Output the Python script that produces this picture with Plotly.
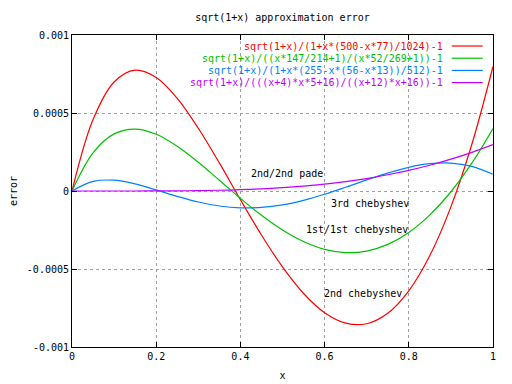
import plotly.graph_objects as go

x_vals = [0, 0.05, 0.1, 0.15, 0.2, 0.25, 0.3, 0.35, 0.4, 0.45, 0.5,
          0.55, 0.6, 0.65, 0.7, 0.75, 0.8, 0.85, 0.9, 0.95, 1.0]

err_cheb2 = [0, 0.000458, 0.000699, 0.000775, 0.000728, 0.000594, 0.000402, 0.000180,
             -0.0000552, -0.000282, -0.000487, -0.000657, -0.000780, -0.000847,
             -0.000851, -0.000784, -0.000640, -0.000414, -0.000102, 0.000301, 0.000798]
err_cheb11 = [0, 0.000245, 0.000366, 0.000397, 0.000364, 0.000287, 0.000184, 0.0000693,
              -0.0000471, -0.000156, -0.000250, -0.000324, -0.000374, -0.000395,
              -0.000385, -0.000342, -0.000266, -0.000153, -0.0000048, 0.000180, 0.000401]
err_cheb3 = [0, 0.0000615, 0.0000692, 0.0000455, 0.0000070, -0.0000345, -0.0000705,
             -0.0000960, -0.000108, -0.000105, -0.0000887, -0.0000596, -0.0000209,
             0.0000240, 0.0000709, 0.000115, 0.000152, 0.000175, 0.000179, 0.000158, 0.000107]
err_pade22 = [0, 0.0000000, 0.0000000, 0.0000001, 0.0000004, 0.0000011, 0.0000024,
              0.0000047, 0.0000083, 0.0000136, 0.0000210, 0.0000310, 0.0000438,
              0.0000599, 0.0000798, 0.000104, 0.000132, 0.000165, 0.000204, 0.000248, 0.000297]

series_names = ["sqrt(1+x)/(1+x*(500-x*77)/1024)-1",
                "sqrt(1+x)/((x*147/214+1)/(x*52/269+1))-1",
                "sqrt(1+x)/(1+x*(255-x*(56-x*13))/512)-1",
                "sqrt(1+x)/(((x+4)*x*5+16)/((x+12)*x+16))-1"]
series_colors = ["#ff0000", "#00c000", "#0080ff", "#c000ff"]
series_values = [err_cheb2, err_cheb11, err_cheb3, err_pade22]

curve_labels = ["2nd/2nd pade", "3rd chebyshev", "1st/1st chebyshev", "2nd chebyshev"]
curve_label_x = [0.42, 0.61, 0.55, 0.595]
curve_label_y = [0.000113, -0.000079, -0.000246, -0.000656]

y_ticks = [-0.001, -0.0005, 0, 0.0005, 0.001]
y_ticktext = ["-0.001", "-0.0005", "0", "0.0005", "0.001"]
x_ticks = [0, 0.2, 0.4, 0.6, 0.8, 1]
x_ticktext = ["0", "0.2", "0.4", "0.6", "0.8", "1"]

FONT = "DejaVu Sans Mono"

fig = go.Figure()
for name, col, vals in zip(series_names, series_colors, series_values):
    fig.add_trace(go.Scatter(x=x_vals, y=vals, mode="lines", name=name,
                             line=dict(color=col, width=1.2, shape="spline"),
                             showlegend=False))

# key (legend) drawn right-aligned with samples on the right, gnuplot style
key_y = [0.9647, 0.9256, 0.8865, 0.8474]
for name, col, ky in zip(series_names, series_colors, key_y):
    fig.add_annotation(xref="paper", yref="paper", x=0.886, y=ky, text=name,
                       showarrow=False, xanchor="right", yanchor="middle",
                       font=dict(color=col, size=10, family=FONT))
    fig.add_shape(type="line", xref="paper", yref="paper", x0=0.902, x1=0.9755,
                  y0=ky, y1=ky, line=dict(color=col, width=1.2))

for t, lx, ly in zip(curve_labels, curve_label_x, curve_label_y):
    fig.add_annotation(x=lx, y=ly, text=t, showarrow=False, xanchor="left",
                       yanchor="middle", font=dict(color="black", size=10, family=FONT))

axis_common = dict(showline=True, linecolor="black", linewidth=1, mirror="ticks",
                   ticks="inside", ticklen=5, tickcolor="black", zeroline=False,
                   showgrid=True, gridcolor="#a0a0a0", griddash="dot", gridwidth=1,
                   automargin=False,
                   tickfont=dict(size=10, family=FONT, color="black"))

fig.update_xaxes(range=[0, 1], tickvals=x_ticks, ticktext=x_ticktext,
                 title=dict(text="x", font=dict(size=10, family=FONT, color="black"), standoff=10),
                 **axis_common)
fig.update_yaxes(range=[-0.001, 0.001], tickvals=y_ticks, ticktext=y_ticktext,
                 title=dict(text="error", font=dict(size=10, family=FONT, color="black"), standoff=10),
                 **axis_common)

# the page body adds an 8px offset; margins compensate so the plot box lands at 72..493 x 35..347
fig.update_layout(
    width=512, height=384,
    margin=dict(l=64, r=27, t=27, b=45),
    paper_bgcolor="white", plot_bgcolor="white",
    title=dict(text="sqrt(1+x) approximation error", x=0.536, xanchor="center",
               y=0.974, yanchor="middle",
               font=dict(size=10, family=FONT, color="black")),
    font=dict(family=FONT, size=10, color="black"),
)

fig.write_html("out.html")
